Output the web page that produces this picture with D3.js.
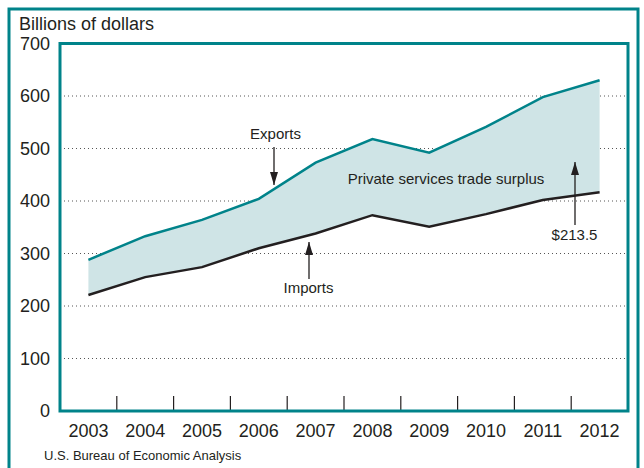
<!DOCTYPE html>
<html>
<head>
<meta charset="utf-8">
<script src="https://cdn.jsdelivr.net/npm/d3@7"></script>
<style>
  body { margin: 0; background: #fff; }
  text { font-family: "Liberation Sans", Arial, sans-serif; fill: #231f20; }
</style>
</head>
<body>
<svg id="chart" width="644" height="468"></svg>
<script>
// data (billions of dollars)
const years = ["2003", "2004", "2005", "2006", "2007", "2008", "2009", "2010", "2011", "2012"];
const exportsVals = [288, 333, 364, 404, 473, 518, 492, 541, 598, 630];
const importsVals = [221, 255, 274, 310, 338, 373, 351, 375, 402, 416.5];
const yTicks = [0, 100, 200, 300, 400, 500, 600, 700];

const teal = "#00838a";
const fillColor = "#cfe4e6";

// Set up dimensions
const margin = { top: 43.5, right: 16, bottom: 57, left: 60 };
const width = 644 - margin.left - margin.right;
const height = 468 - margin.top - margin.bottom;

const svg = d3.select("#chart");

// outer frame
svg.append("rect")
  .attr("x", 9).attr("y", 9)
  .attr("width", 629).attr("height", 480)
  .attr("fill", "none")
  .attr("stroke", teal)
  .attr("stroke-width", 3);

svg.append("text")
  .attr("x", 19).attr("y", 30)
  .style("font-size", "18px")
  .text("Billions of dollars");

const g = svg.append("g").attr("transform", `translate(${margin.left},${margin.top})`);

// Create scales
const xScale = d3.scaleBand().domain(years).range([0, width]);
const yScale = d3.scaleLinear().domain([0, 700]).range([height, 0]);
const cx = (d) => xScale(d) + xScale.bandwidth() / 2;

// gridlines
g.selectAll(".grid")
  .data(yTicks.filter((d) => d > 0 && d < 700))
  .join("line")
  .attr("x1", 0).attr("x2", width)
  .attr("y1", (d) => yScale(d)).attr("y2", (d) => yScale(d))
  .attr("stroke", "#555")
  .attr("stroke-width", 1)
  .attr("stroke-dasharray", "1,3");

// surplus area
const rows = years.map((y, i) => ({ year: y, ex: exportsVals[i], im: importsVals[i] }));
const area = d3.area()
  .x((d) => cx(d.year))
  .y0((d) => yScale(d.im))
  .y1((d) => yScale(d.ex));

g.append("path").datum(rows).attr("fill", fillColor).attr("d", area);

const line = d3.line().x((d) => cx(d.year));

g.append("path")
  .datum(rows)
  .attr("fill", "none")
  .attr("stroke", teal)
  .attr("stroke-width", 2.5)
  .attr("d", line.y((d) => yScale(d.ex)));

g.append("path")
  .datum(rows)
  .attr("fill", "none")
  .attr("stroke", "#231f20")
  .attr("stroke-width", 2.5)
  .attr("d", line.y((d) => yScale(d.im)));

// y axis labels
g.selectAll(".ylab")
  .data(yTicks)
  .join("text")
  .attr("x", -10)
  .attr("y", (d) => yScale(d))
  .attr("dy", "0.36em")
  .attr("text-anchor", "end")
  .style("font-size", "18px")
  .text((d) => d);

// x axis: tick marks between years, labels centered
g.selectAll(".xtick")
  .data(years.slice(1))
  .join("line")
  .attr("x1", (d) => xScale(d)).attr("x2", (d) => xScale(d))
  .attr("y1", height).attr("y2", height - 15)
  .attr("stroke", "#231f20")
  .attr("stroke-width", 1.2);

g.selectAll(".xlab")
  .data(years)
  .join("text")
  .attr("x", (d) => cx(d))
  .attr("y", height + 26)
  .attr("text-anchor", "middle")
  .style("font-size", "18px")
  .text((d) => d);

// plot frame
g.append("rect")
  .attr("width", width).attr("height", height)
  .attr("fill", "none")
  .attr("stroke", teal)
  .attr("stroke-width", 3);

// annotations
const defs = svg.append("defs");
defs.append("marker")
  .attr("id", "arr")
  .attr("viewBox", "0 0 13 8")
  .attr("refX", 13).attr("refY", 4)
  .attr("markerWidth", 13).attr("markerHeight", 8)
  .attr("markerUnits", "userSpaceOnUse")
  .attr("orient", "auto")
  .append("path")
  .attr("d", "M0,0 L13,4 L0,8 Z")
  .attr("fill", "#231f20");

function arrow(x, y1, y2) {
  svg.append("line")
    .attr("x1", x).attr("y1", y1)
    .attr("x2", x).attr("y2", y2)
    .attr("stroke", "#231f20")
    .attr("stroke-width", 1.3)
    .attr("marker-end", "url(#arr)");
}

svg.append("text").attr("x", 275.5).attr("y", 139).attr("text-anchor", "middle")
  .style("font-size", "15px").text("Exports");
arrow(274, 147, 185);

svg.append("text").attr("x", 308.5).attr("y", 293).attr("text-anchor", "middle")
  .style("font-size", "15px").text("Imports");
arrow(309, 279, 242);

svg.append("text").attr("x", 446).attr("y", 184).attr("text-anchor", "middle")
  .style("font-size", "15px").text("Private services trade surplus");

svg.append("text").attr("x", 574.5).attr("y", 240).attr("text-anchor", "middle")
  .style("font-size", "15px").text("$213.5");
arrow(575, 225, 162);

svg.append("text").attr("x", 44).attr("y", 460)
  .style("font-size", "13px")
  .text("U.S. Bureau of Economic Analysis");
</script>
</body>
</html>
